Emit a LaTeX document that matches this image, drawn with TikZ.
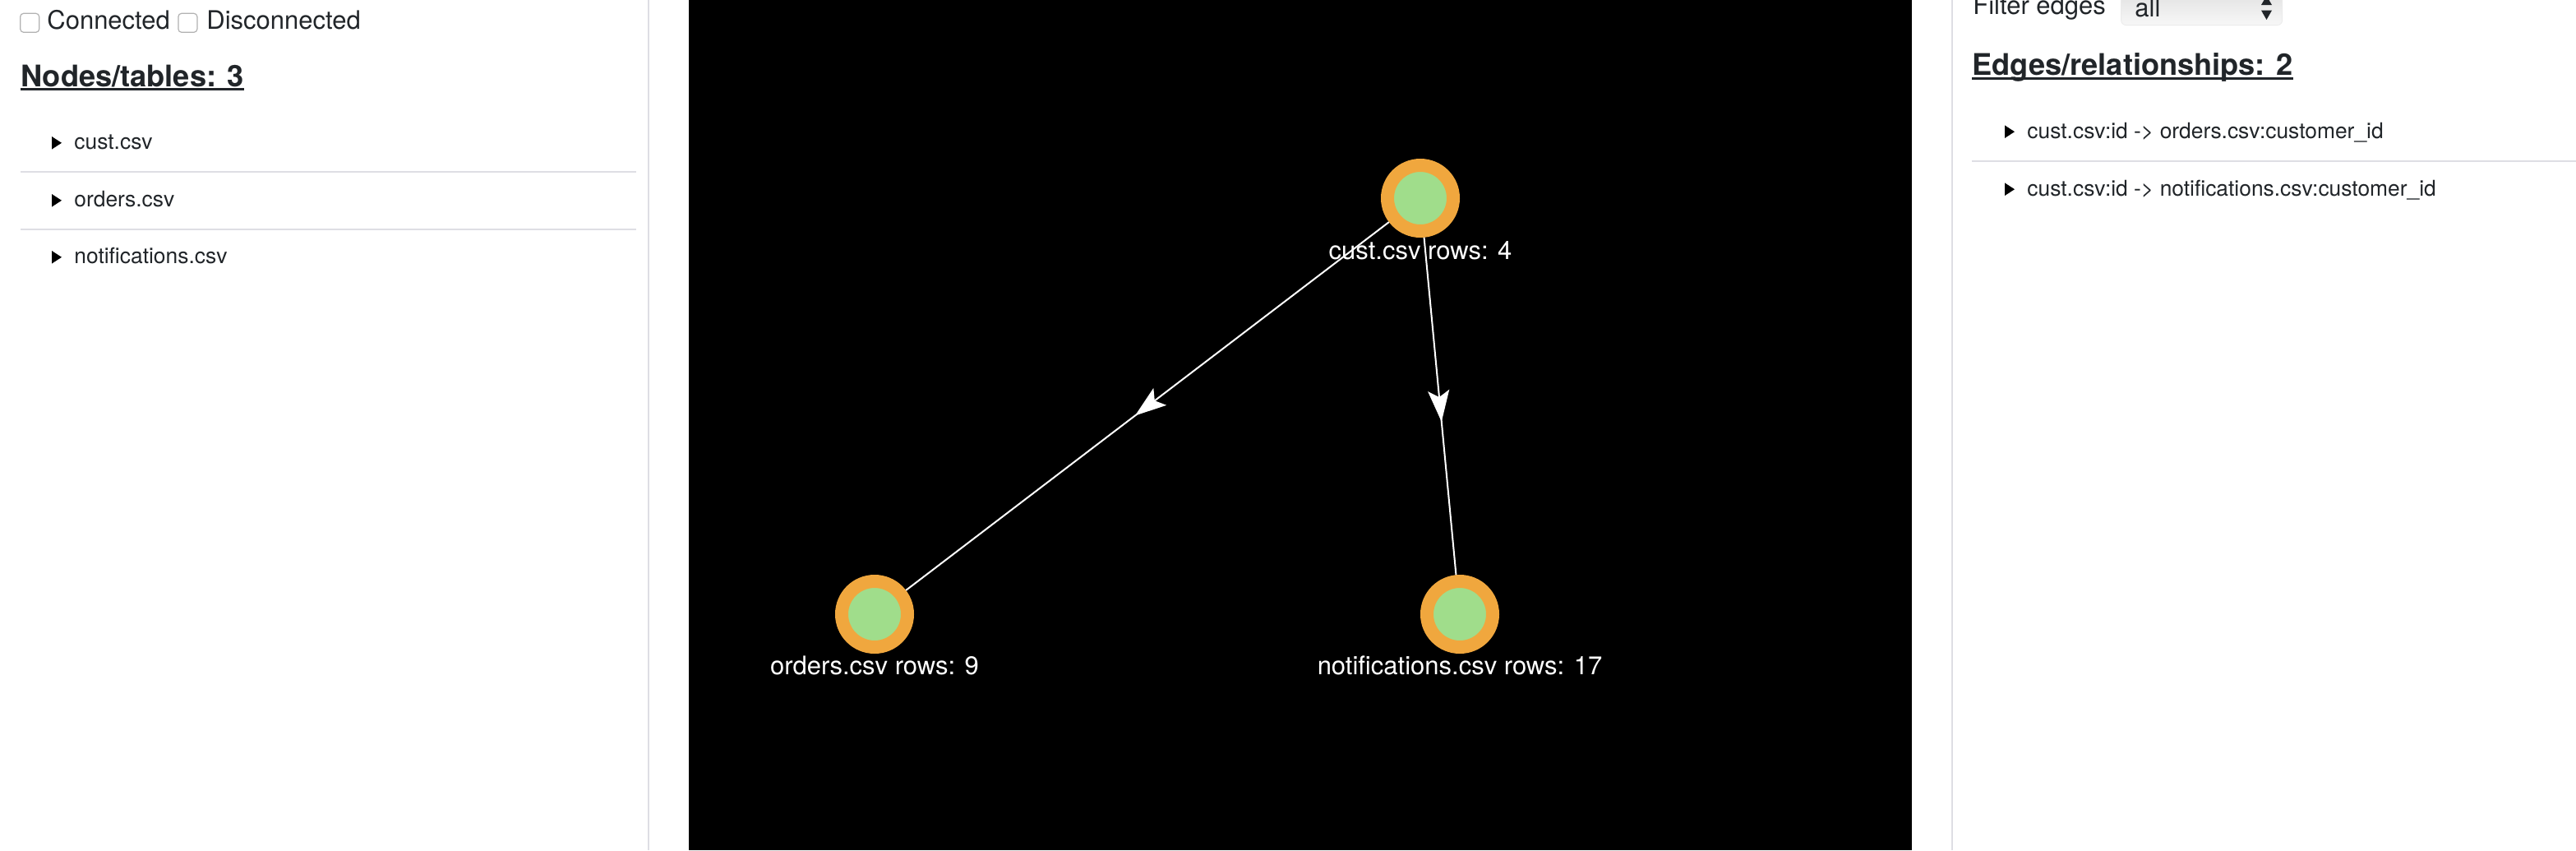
\documentclass[tikz,border=0pt]{standalone}
\usepackage{fontspec}
\setmainfont{TeX Gyre Heros}
\usetikzlibrary{positioning,arrows.meta,decorations.markings}
\definecolor{ink}{RGB}{33,37,41}
\definecolor{rule}{RGB}{222,222,228}
\definecolor{ring}{RGB}{240,167,62}
\definecolor{core}{RGB}{160,221,139}
\begin{document}
\begin{tikzpicture}
  [ x=1pt, y=-1pt
  , txt/.style={inner sep=0pt, text=ink, anchor=base west}
  , opt/.style={txt, font=\fontsize{15.5}{18}\selectfont}
  , head/.style={txt, font=\fontsize{18.1}{22}\selectfont\bfseries}
  , entry/.style={txt, font=\fontsize{13.2}{16}\selectfont}
  , cbox/.style={draw=black!30, fill=white, rounded corners=2pt, line width=0.6pt, minimum size=11.5pt, inner sep=0pt}
  , tbl/.style={circle, draw=ring, fill=core, line width=8pt, minimum size=40pt, inner sep=0pt}
  , lbl/.style={inner sep=0pt, text=white, anchor=base, font=\fontsize{15.5}{18}\selectfont}
  , rel/.style={white, line width=1pt, postaction={decorate},
      decoration={markings, mark=at position 0.5 with {\arrow[xshift=9.5pt]{Stealth[length=19pt,width=13pt,inset=4pt]}}}}
  , sep/.style={draw=rule, line width=1pt}
  ]

  \useasboundingbox[fill=white] (0,0) rectangle (1567,517);

  % left panel
  \node[cbox] (chkcon) at (18.1,13.9) {};
  \node[opt]  (con)    at (28.5,17.8) {Connected};
  \node[cbox] (chkdis) at (114.2,13.9) {};
  \node[opt]  (dis)    at (125.5,17.8) {Disconnected};

  \node[head] (nodes) at (12.5,52.5) {Nodes/tables: 3};
  \draw[ink, line width=1.3pt] ([yshift=-1.8pt]nodes.base west) -- ([yshift=-1.8pt]nodes.base east);

  \node[entry] (tcust) at (45,90.8) {cust.csv};
  \node[below=35pt of tcust.base west, entry] (tord) {orders.csv};
  \node[below=34.5pt of tord.base west, entry] (tnot) {notifications.csv};

  \draw[sep] (12.5,104.7) -- (387,104.7);
  \draw[sep] (12.5,139.5) -- (387,139.5);

  \draw[rule, line width=1pt] (394.5,0) -- (394.5,517);

  % graph
  \fill[black] (419,0) rectangle (1163,517);

  \node[tbl]                                            (cust)   at (864,120.5) {};
  \node[tbl, on grid, below left=253pt and 332pt of cust] (orders) {};
  \node[tbl, on grid, below right=253pt and 24pt of cust] (notif)  {};

  \draw[rel] (cust) -- (orders);
  \draw[rel] (cust) -- (notif);

  \node[below=37pt of cust.center, lbl]   (custrows) {cust.csv rows: 4};
  \node[below=36.5pt of orders.center, lbl] (ordrows)  {orders.csv rows: 9};
  \node[below=36.5pt of notif.center, lbl]  (notrows)  {notifications.csv rows: 17};

  % right panel
  \draw[rule, line width=1pt] (1187.5,0) -- (1187.5,517);

  \node[opt] (filter) at (1200,8.7) {Filter edges};
  \shade[top color=black!12, bottom color=black!3, draw=black!8, rounded corners=3pt]
    (1290.3,-6) rectangle (1388.3,15.3);
  \node[opt] (all) at (1298.5,10.3) {all};
  \fill[ink] (1375.5,3) -- (1382,3) -- (1378.75,-2.5) -- cycle;
  \fill[ink] (1375.5,6.3) -- (1382,6.3) -- (1378.75,12) -- cycle;

  \node[head] (edges) at (1199.5,45.8) {Edges/relationships: 2};
  \draw[ink, line width=1.3pt] ([yshift=-1.8pt]edges.base west) -- ([yshift=-1.8pt]edges.base east);

  \node[entry] (ecust) at (1233,84) {cust.csv:id -> orders.csv:customer\_id};
  \node[below=35pt of ecust.base west, entry] (enot) {cust.csv:id -> notifications.csv:customer\_id};

  \draw[sep] (1199.5,98) -- (1567,98);

  \foreach \n in {tcust,tord,tnot,ecust,enot}
    \fill[black] ([xshift=-13.5pt]\n.base west) -- ++(0,-7.8) -- ++(6,3.9) -- cycle;

\end{tikzpicture}
\end{document}
